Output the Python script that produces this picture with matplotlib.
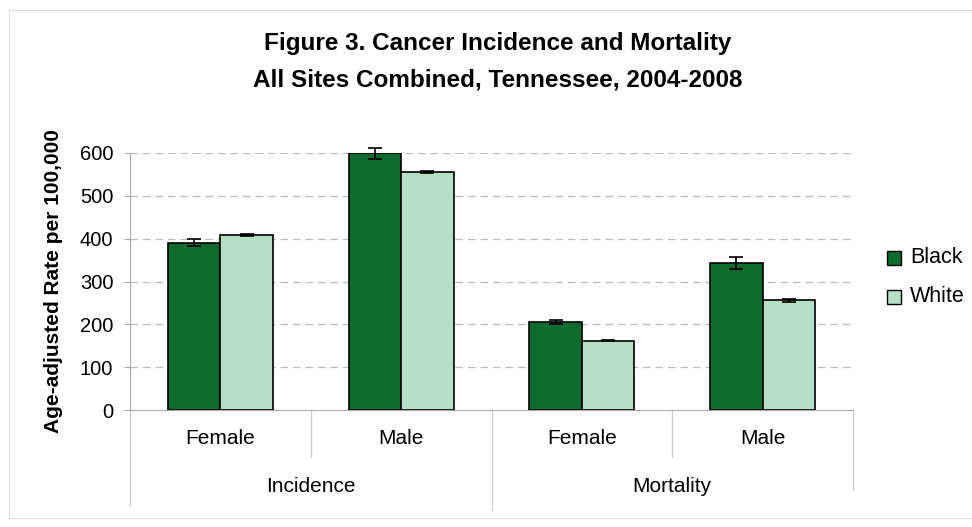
import matplotlib
matplotlib.use("Agg")
import matplotlib.pyplot as plt
import numpy as np
from matplotlib.patches import Rectangle
from matplotlib.lines import Line2D

plt.rcParams['font.family'] = ['Liberation Sans', 'DejaVu Sans']

groups = ["Incidence", "Mortality"]
sexes = ["Female", "Male", "Female", "Male"]
black = [391, 599, 205, 344]
black_err = [9, 13, 5, 14]
white = [409, 556, 162, 256]
white_err = [2, 3, 2, 3]
yticks = [0, 100, 200, 300, 400, 500, 600]

dark = "#0d6b2e"
light = "#b5e0c6"

fig = plt.figure(figsize=(9.72, 5.27), dpi=100)
W, H = 972, 527
ax = fig.add_axes([130 / W, 1 - 410 / H, (853 - 130) / W, (410 - 153) / H])

x = np.arange(4)
bw = 0.29
ax.bar(x - bw / 2, black, bw, color=dark, edgecolor="black", linewidth=1.2, zorder=3)
ax.bar(x + bw / 2, white, bw, color=light, edgecolor="black", linewidth=1.2, zorder=3)
ax.errorbar(x - bw / 2, black, yerr=black_err, fmt="none", ecolor="black",
            elinewidth=1.2, capsize=5, capthick=1.2, zorder=4, clip_on=False)
ax.errorbar(x + bw / 2, white, yerr=white_err, fmt="none", ecolor="black",
            elinewidth=1.2, capsize=5, capthick=1.2, zorder=4, clip_on=False)

ax.set_xlim(-0.5, 3.5)
ax.set_ylim(0, 600)
ax.set_yticks(yticks)
ax.set_yticklabels([str(v) for v in yticks], fontsize=14.5)
ax.tick_params(axis="y", length=4, color="#aaaaaa", pad=8)
ax.tick_params(axis="x", length=0, labelbottom=False)
for yv in yticks[1:]:
    ax.axhline(yv, color="#bbbbbb", linestyle=(0, (6, 4)), linewidth=0.9, zorder=1)
for s in ["top", "right"]:
    ax.spines[s].set_visible(False)
ax.spines["left"].set_color("#aaaaaa")
ax.spines["bottom"].set_color("#aaaaaa")

# multi-level category axis
trans = ax.get_xaxis_transform()
def ypos(pix):
    return (410 - pix) / (410 - 153)
for xv, bottom in [(-0.5, 505), (0.5, 457), (1.5, 510), (2.5, 457), (3.5, 490)]:
    ax.add_line(Line2D([xv, xv], [0, ypos(bottom)], transform=trans, color="#cccccc",
                       linewidth=0.9, clip_on=False))
for i, s in enumerate(sexes):
    ax.text(i, ypos(438), s, transform=trans, ha="center", va="center", fontsize=15)
for j, g in enumerate(groups):
    ax.text(2 * j + 0.5, ypos(487), g, transform=trans, ha="center", va="center", fontsize=15)

ax.set_ylabel("Age-adjusted Rate per 100,000", fontsize=15, fontweight="bold", labelpad=12)

fig.text(498 / W, 1 - 50 / H, "Figure 3. Cancer Incidence and Mortality", ha="center",
         va="baseline", fontsize=17.5, fontweight="bold")
fig.text(498 / W, 1 - 86 / H, "All Sites Combined, Tennessee, 2004-2008", ha="center",
         va="baseline", fontsize=17.5, fontweight="bold")

# legend
for yy, col, lab in [(258, dark, "Black"), (297, light, "White")]:
    fig.patches.append(Rectangle((887 / W, 1 - (yy + 7) / H), 14 / W, 14 / H,
                                 transform=fig.transFigure, facecolor=col,
                                 edgecolor="black", linewidth=1))
    fig.text(910 / W, 1 - yy / H, lab, ha="left", va="center", fontsize=15.5)

# faint outer frame (right edge lies outside the image)
fig.patches.append(Rectangle((9 / W, 9 / H), (W + 20) / W, (H - 19) / H,
                             transform=fig.transFigure, facecolor="none",
                             edgecolor="#dddddd", linewidth=0.8))

fig.savefig("out.png", dpi=100)
